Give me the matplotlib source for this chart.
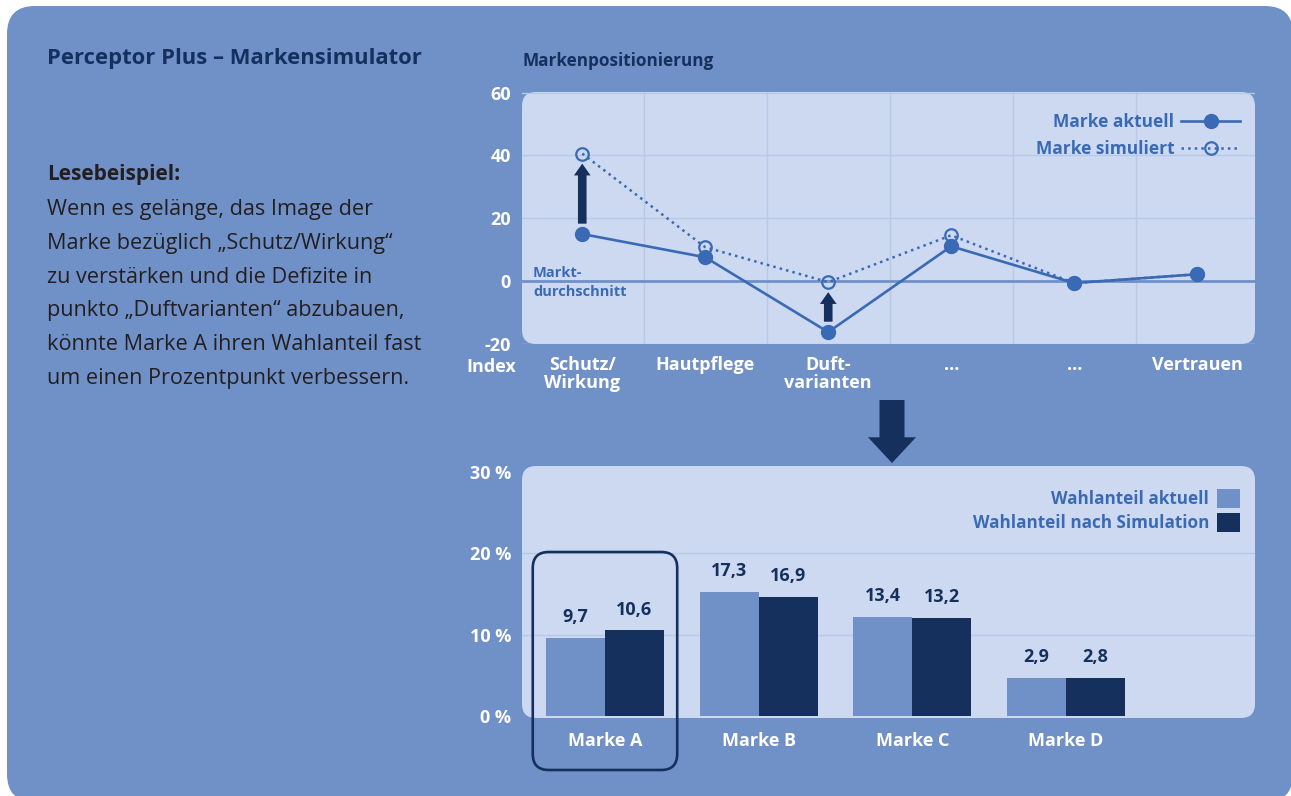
import matplotlib
matplotlib.use("Agg")
import matplotlib.pyplot as plt
import numpy as np
from matplotlib.patches import FancyBboxPatch, FancyArrowPatch, Patch
from matplotlib.lines import Line2D
from matplotlib.transforms import IdentityTransform

# --- data -----------------------------------------------------------------
attributes = ["Schutz/\nWirkung", "Hautpflege", "Duft-\nvarianten", "...", "...", "Vertrauen"]
marke_aktuell = [15.0, 7.6, -16.2, 11.1, -0.6, 2.2]
marke_simuliert = [40.6, 10.8, -0.3, 14.6, -0.6, 2.2]
arrow_idx = [0, 2]  # attributes where the simulation shifts the brand

brands = ["Marke A", "Marke B", "Marke C", "Marke D"]
share_now = [9.6, 15.2, 12.2, 4.7]
share_sim = [10.5, 14.6, 12.0, 4.7]
label_now = ["9,7", "17,3", "13,4", "2,9"]
label_sim = ["10,6", "16,9", "13,2", "2,8"]

body_lines = [
    "Wenn es gelänge, das Image der",
    "Marke bezüglich „Schutz/Wirkung“",
    "zu verstärken und die Defizite in",
    "punkto „Duftvarianten“ abzubauen,",
    "könnte Marke A ihren Wahlanteil fast",
    "um einen Prozentpunkt verbessern.",
]

# --- style ----------------------------------------------------------------
W, H = 1291, 796
OUTER = "#7090c8"
PANEL = "#cdd9f0"
BLUE = "#3a6ab5"
NAVY = "#16305e"
GRID = "#b8c9e8"
TEXT = "#231f20"

plt.rcParams["font.family"] = ["Open Sans", "DejaVu Sans"]
plt.rcParams["axes.unicode_minus"] = False


def rect(x0, y0, x1, y1):
    return [x0 / W, 1 - y1 / H, (x1 - x0) / W, (y1 - y0) / H]


def panel(x0, y0, x1, y1, r, color, z):
    p = FancyBboxPatch((x0, H - y1), x1 - x0, y1 - y0,
                       boxstyle=f"round,pad=0,rounding_size={r}",
                       transform=IdentityTransform(), fc=color, ec="none", zorder=z)
    fig.add_artist(p)


fig = plt.figure(figsize=(W / 100, H / 100), dpi=100, facecolor="white")

panel(7, 6, 1293, 802, 28, OUTER, -3)

# left text block
fig.text(47 / W, 1 - 64 / H, "Perceptor Plus – Markensimulator", fontsize=15.8,
         fontweight="bold", color=NAVY, va="baseline")
fig.text(47 / W, 1 - 180 / H, "Lesebeispiel:", fontsize=15, fontweight="bold",
         color=TEXT, va="baseline")
for i, line in enumerate(body_lines):
    fig.text(47 / W, 1 - (215 + i * 33.8) / H, line, fontsize=15.6, color=TEXT,
             va="baseline")

# --- top chart: Markenpositionierung --------------------------------------
top = (522, 92, 1255, 344)
panel(*top, 14, PANEL, -1)
ax = fig.add_axes(rect(*top))
ax.patch.set_visible(False)
for s in ax.spines.values():
    s.set_visible(False)

x = np.arange(len(attributes))
ax.set_xlim(-0.49, 5.47)
ax.set_ylim(-20, 60.2)

ax.set_yticks([-20, 0, 20, 40, 60])
ax.set_xticks(x)
ax.set_xticklabels(attributes, linespacing=0.95)
ax.set_xticks(np.arange(0.5, len(attributes) - 1, 1), minor=True)
ax.tick_params(axis="both", which="both", length=0, colors="white",
               labelsize=13)
ax.tick_params(axis="x", pad=9)
ax.tick_params(axis="y", pad=8)
for lbl in ax.get_xticklabels() + ax.get_yticklabels():
    lbl.set_fontweight("bold")

ax.grid(which="minor", axis="x", color=GRID, lw=1)
ax.grid(which="major", axis="y", color=GRID, lw=1)
ax.set_axisbelow(True)
ax.axhline(0, color=OUTER, lw=2, zorder=1)

ax.plot(x, marke_simuliert, ls=":", lw=1.8, color=BLUE, marker="o", ms=9,
        mfc="none", mec=BLUE, mew=1.6, zorder=3, label="Marke simuliert")
ax.plot(x, marke_aktuell, ls="-", lw=1.9, color=BLUE, marker="o", ms=10,
        mfc=BLUE, mec=BLUE, zorder=4, label="Marke aktuell")

for i in arrow_idx:
    arr = FancyArrowPatch((x[i], marke_aktuell[i] + 3.3),
                          (x[i], marke_simuliert[i] - 3.2),
                          arrowstyle="simple,head_length=0.85,head_width=1.2,tail_width=0.62",
                          mutation_scale=10, fc=NAVY, ec="none",
                          shrinkA=0, shrinkB=0, zorder=5)
    ax.add_patch(arr)

ax.text(-0.4, 4.9, "Markt-\ndurchschnitt", color=BLUE, fontsize=10.5,
        fontweight="bold", va="top", ha="left", linespacing=1.45)

h = [Line2D([], [], ls="-", lw=1.9, color=BLUE, marker="o", ms=10),
     Line2D([], [], ls=":", lw=1.8, color=BLUE, marker="o", ms=9, mfc="none", mew=1.6)]
ax.legend(h, ["Marke aktuell", "Marke simuliert"], loc="upper right",
          bbox_to_anchor=(0.98, 0.915), borderaxespad=0, borderpad=0,
          frameon=False, markerfirst=False, handlelength=3.4, handletextpad=0.4,
          labelspacing=0.5, labelcolor=BLUE,
          prop={"weight": "bold", "size": 12.5})

fig.text(491 / W, 1 - 367 / H, "Index", fontsize=13, fontweight="bold",
         color="white", ha="center", va="center")
fig.text(522 / W, 1 - 66 / H, "Markenpositionierung", fontsize=12.3,
         fontweight="bold", color=NAVY, va="baseline")

# big arrow between the charts
fig.add_artist(FancyArrowPatch((892, H - 400), (892, H - 463),
                               arrowstyle="simple,head_length=1.85,head_width=3.45,tail_width=1.8",
                               mutation_scale=10, transform=IdentityTransform(),
                               fc=NAVY, ec="none", shrinkA=0, shrinkB=0))

# --- bottom chart: Wahlanteil ---------------------------------------------
bot = (522, 466, 1255, 718)
panel(*bot, 14, PANEL, -1)
bx = fig.add_axes(rect(*bot))
bx.patch.set_visible(False)
for s in bx.spines.values():
    s.set_visible(False)

g = np.arange(len(brands))
bw = 0.384
bx.set_xlim(-0.54, 4.23)
bx.set_ylim(-0.25, 30.7)
bx.bar(g - bw / 2, share_now, width=bw, color=OUTER, label="Wahlanteil aktuell", zorder=2)
bx.bar(g + bw / 2, share_sim, width=bw, color=NAVY, label="Wahlanteil nach Simulation", zorder=2)

for i in g:
    bx.annotate(label_now[i], (i - bw / 2, share_now[i]), xytext=(0, 15),
                textcoords="offset points", ha="center", va="center",
                fontsize=13, fontweight="bold", color=NAVY)
    bx.annotate(label_sim[i], (i + bw / 2, share_sim[i]), xytext=(0, 15),
                textcoords="offset points", ha="center", va="center",
                fontsize=13, fontweight="bold", color=NAVY)

bx.set_xticks(g)
bx.set_xticklabels(brands)
bx.set_yticks([0, 10, 20, 30])
bx.set_yticklabels(["0 %", "10 %", "20 %", "30 %"])
bx.tick_params(axis="both", length=0, colors="white", labelsize=13)
bx.tick_params(axis="x", pad=10)
bx.tick_params(axis="y", pad=8)
for lbl in bx.get_xticklabels() + bx.get_yticklabels():
    lbl.set_fontweight("bold")
bx.grid(axis="y", color=GRID, lw=1)
bx.set_axisbelow(True)
gl = bx.get_ygridlines()
gl[0].set_visible(False)
gl[-1].set_visible(False)

bx.legend(loc="upper right", bbox_to_anchor=(0.9795, 0.91), borderaxespad=0,
          borderpad=0, frameon=False, markerfirst=False, handlelength=1.36,
          handleheight=1.36, handletextpad=0.45, labelspacing=0.28,
          labelcolor=BLUE, prop={"weight": "bold", "size": 12.3})

# highlight box around Marke A
xa0 = bx.transData.transform((g[0] - 0.47, 0))[0]
xa1 = bx.transData.transform((g[0] + 0.47, 0))[0]
fig.add_artist(FancyBboxPatch((xa0, H - 770), xa1 - xa0, 770 - 552,
                              boxstyle="round,pad=0,rounding_size=16",
                              transform=IdentityTransform(), fc="none",
                              ec=NAVY, lw=1.9, zorder=5))

fig.savefig("out.png", dpi=100)
